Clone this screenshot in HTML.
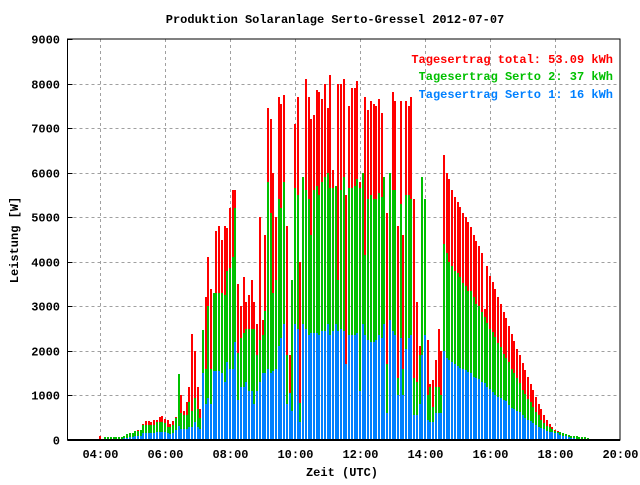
<!DOCTYPE html>
<html><head><meta charset="utf-8">
<style>
html,body{margin:0;padding:0;background:#fff;}
svg text{font-family:"Liberation Mono",monospace;}
</style></head>
<body>
<svg id="chart" width="640" height="480" xmlns="http://www.w3.org/2000/svg">
<rect x="0" y="0" width="640" height="480" fill="#fff"/>
<text x="335" y="23" text-anchor="middle" font-size="12" font-weight="bold">Produktion Solaranlage Serto-Gressel 2012-07-07</text>
<g id="grid" shape-rendering="crispEdges"></g>
<g id="bars" shape-rendering="crispEdges"></g>
<g id="axes" shape-rendering="crispEdges"></g>
<text transform="translate(18,240) rotate(-90)" text-anchor="middle" font-size="12" font-weight="bold">Leistung [W]</text>
<text x="342" y="476" text-anchor="middle" font-size="12" font-weight="bold">Zeit (UTC)</text>
<g font-size="12" font-weight="bold" text-anchor="end">
<text x="613" y="63" fill="#ff0000">Tagesertrag total: 53.09 kWh</text>
<text x="613" y="80" fill="#00c000">Tagesertrag Serto 2: 37 kWh</text>
<text x="613" y="98" fill="#0080ff">Tagesertrag Serto 1: 16 kWh</text>
</g>
</svg>
<script>
// 5-minute intervals starting 04:00 (values in W)
const startMinutes = 240;
const stepMinutes = 5;
const totalW = [80,0,60,60,60,60,60,60,60,100,130,160,160,200,220,230,350,420,420,400,440,460,520,540,480,440,360,420,520,1480,1000,660,860,1200,2380,2000,1200,700,2460,
3200,4100,3400,3300,4700,4800,4500,4800,4750,5200,5600,5600,3500,3000,3650,3100,3250,3600,3100,2600,5000,2700,4600,7450,7200,6000,5000,7700,
7550,7750,4800,1900,3600,7100,7700,4000,5900,8100,7700,7200,7300,7850,7800,7650,8000,7450,8200,6050,5700,8000,8000,8100,5500,7500,7900,7900,8050,5800,6000,7700,7400,
7600,7550,7500,7650,7350,5900,5100,6000,7800,7600,4800,7600,4600,7600,7500,7700,5400,3100,2100,5900,5400,2250,1250,1350,1800,2500,2000,6400,6000,5850,5600,5450,
5340,5230,5100,5000,4900,4770,4600,4460,4350,4200,2940,3900,3680,3550,3380,3200,3050,2880,2740,2560,2390,2220,2050,1900,1730,1570,1420,1250,1120,970,810,700,570,450,370,300,220,200,180,160,130,120,100,90,80,70,60,60,50];
const serto2W = [0,0,60,60,60,60,60,60,60,100,130,160,160,200,200,230,330,330,330,330,330,400,400,400,380,300,300,330,500,1480,600,560,560,850,650,950,700,500,2460,
1600,3000,1600,3300,3300,3300,3300,3250,3800,3850,4100,5200,1950,2300,2400,2500,2500,2500,2500,1900,2250,2350,2900,5800,5100,3300,3600,5400,
5200,5800,1900,1000,3600,5650,5500,820,5900,5600,5400,4600,5600,5700,5500,5800,5900,6000,5650,5650,5700,3600,5600,5900,1700,5650,5650,5700,5850,5650,6000,4150,5400,
5500,5400,5400,5550,5450,5900,1700,6000,5600,5600,1400,5300,1600,5500,5500,5400,1400,1300,1900,5900,5400,1000,1200,750,1200,1200,1000,4400,4200,4000,3900,3800,
3740,3650,3530,3450,3350,3350,3200,3060,3000,2880,2760,2630,2500,2430,2320,2170,2080,1940,1850,1750,1600,1500,1400,1280,1130,1030,930,860,750,630,560,460,390,320,290,240,200,190,170,160,130,120,100,90,80,70,60,60,50];
const serto1W = [0,0,20,20,20,20,20,20,20,40,50,60,60,80,90,100,150,150,150,150,150,180,180,180,170,150,140,150,220,320,250,250,250,300,300,400,300,250,1500,
800,940,800,1550,1550,1550,1500,1300,1750,1600,1600,2200,900,1200,1200,1300,1100,1100,800,1100,1300,1500,1500,1600,1500,1550,1600,2100,
2300,2600,800,1050,650,2600,2500,400,2600,2500,2350,2400,2400,2400,2350,2450,2450,2600,2350,2450,2600,2450,2500,2450,1700,2350,2350,2350,2400,1100,2600,2350,2250,
2200,2200,2250,2350,2300,2600,600,2700,2450,2350,1000,2300,1000,2050,2300,2350,550,550,800,1900,2350,450,400,400,600,600,600,2000,1850,1800,1750,1700,
1660,1620,1600,1580,1520,1500,1420,1400,1380,1300,1280,1200,1150,1080,1020,970,950,900,870,780,720,700,650,620,560,500,450,430,380,330,300,270,240,200,180,170,160,150,120,100,80,60,50,40,30,30,20,20,10];
const yTicks = [0,1000,2000,3000,4000,5000,6000,7000,8000,9000];
const xTickHours = [4,6,8,10,12,14,16,18,20];

const NS = "http://www.w3.org/2000/svg";
const PL = 67.5, PR = 620, PT = 39, PB = 440;
const xMin = 3*60, xMax = 20*60, yMax = 9000;
function xScale(m){ return PL + (m - xMin) / (xMax - xMin) * (PR - PL); }
function yScale(v){ return PB - v / yMax * (PB - PT); }
function mk(tag, attrs, parent){ const e = document.createElementNS(NS, tag); for (const k in attrs) e.setAttribute(k, attrs[k]); parent.appendChild(e); return e; }

const grid = document.getElementById('grid');
const axes = document.getElementById('axes');
const bars = document.getElementById('bars');

yTicks.forEach(v => {
  const y = Math.round(yScale(v)) + 0.5;
  if (v > 0 && v < yMax) {
    const l = mk('line', {x1:PL, x2:PR, y1:y, y2:y, stroke:'#a0a0a0', 'stroke-dasharray':'3,3'}, grid);
    
    
  }
  const t = mk('text', {x:60, y:y+4, 'text-anchor':'end', 'font-size':'12', 'font-weight':'bold'}, axes);
  t.textContent = v;
  
  
  const tk = mk('line', {x1:PL, x2:PL+5, y1:y, y2:y, stroke:'#000'}, axes);
  
  
});
xTickHours.forEach(h => {
  const x = Math.round(xScale(h*60)) + 0.5;
  if (h < 20) {
    const l = mk('line', {x1:x, x2:x, y1:PT, y2:PB, stroke:'#a0a0a0', 'stroke-dasharray':'3,3'}, grid);
    
    
  }
  const t = mk('text', {x:x, y:458, 'text-anchor':'middle', 'font-size':'12', 'font-weight':'bold'}, axes);
  t.textContent = (h < 10 ? '0' : '') + h + ':00';
  
  
});
const frame = mk('rect', {x:PL, y:PT, width:PR-PL, height:PB-PT, fill:'none', stroke:'#000', 'stroke-width':'1'}, axes);


const base = mk('line', {x1:PL, x2:PR, y1:PB, y2:PB, stroke:'#000', 'stroke-width':'2'}, axes);



function drawSeries(arr, color, name){
  arr.forEach((v, i) => {
    if (v <= 0) return;
    const x = xScale(startMinutes + i*stepMinutes);
    const y = Math.round(yScale(v));
    const r = mk('rect', {x:(Math.round(x)-1), y:y, width:2, height:PB - y, fill:color}, bars);
    
    
  });
}
drawSeries(totalW, '#ff0000', 'bar-total');
drawSeries(serto2W, '#00c000', 'bar-serto2');
drawSeries(serto1W, '#0080ff', 'bar-serto1');
</script>
</body></html>
